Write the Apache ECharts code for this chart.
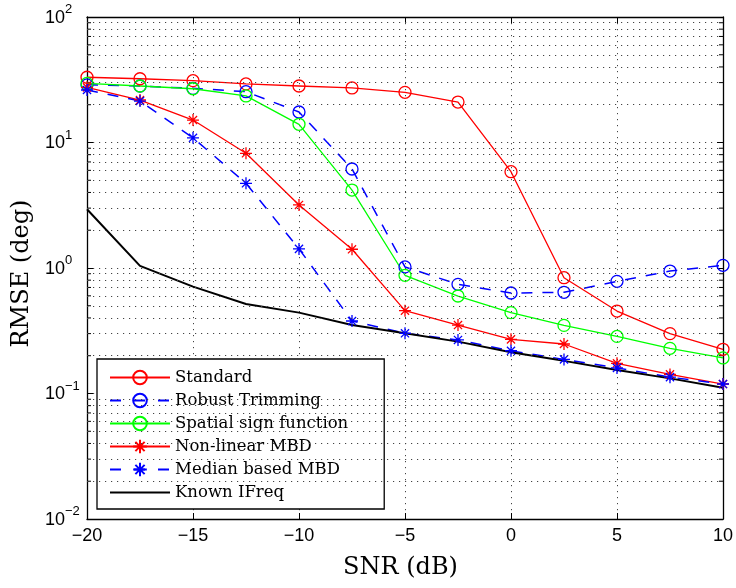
<!DOCTYPE html>
<html>
<head>
<meta charset="utf-8">
<script src="https://cdn.jsdelivr.net/npm/echarts@6/dist/echarts.min.js"></script>
<style>
  html, body { margin: 0; padding: 0; background: #fff; }
  #chart { width: 736px; height: 588px; }
</style>
</head>
<body>
<div id="chart"></div>
<script>
// SNR sweep (dB) and RMSE (deg) for each estimator
const snr = [-20, -17.5, -15, -12.5, -10, -7.5, -5, -2.5, 0, 2.5, 5, 7.5, 10];
const standard = [33.1, 32.2, 31.1, 29.3, 28.2, 27.2, 25.1, 21.0, 5.85, 0.837, 0.454, 0.300, 0.225];
const robustTrimming = [28.8, 28.2, 27.0, 25.4, 17.5, 6.15, 1.02, 0.741, 0.632, 0.640, 0.783, 0.946, 1.05];
const spatialSign = [29.6, 28.2, 26.8, 23.5, 13.96, 4.18, 0.875, 0.598, 0.441, 0.349, 0.285, 0.229, 0.192];
const nonLinearMBD = [27.5, 21.8, 15.1, 8.2, 3.18, 1.41, 0.457, 0.351, 0.270, 0.248, 0.174, 0.142, 0.119];
const medianMBD = [26.2, 21.4, 10.9, 4.73, 1.42, 0.378, 0.302, 0.267, 0.219, 0.187, 0.160, 0.135, 0.119];
const knownIFreq = [2.94, 1.04, 0.710, 0.516, 0.441, 0.351, 0.302, 0.259, 0.213, 0.182, 0.154, 0.132, 0.111];

const seriesNames = ['Standard', 'Robust Trimming', 'Spatial sign function',
                     'Non-linear MBD', 'Median based MBD', 'Known IFreq'];

// axis ranges
const X_MIN = -20, X_MAX = 10, X_STEP = 5;
const Y_MIN = 0.01, Y_MAX = 100;

// minor decade values (2..9 × each decade) for the dotted minor grid
const decades = [0.01, 0.1, 1, 10];
const minorValues = [];
decades.forEach(d => { for (let k = 2; k <= 9; k++) minorValues.push(+(k * d).toPrecision(3)); });

const SANS = '"Liberation Sans", Arial, Helvetica, sans-serif';
const SERIF = '"DejaVu Serif", serif';
const STAR = 'path://M5,0L5,10M0,5L10,5M1.6,1.6L8.4,8.4M1.6,8.4L8.4,1.6';
const DASH = [11, 10];

function pairs(ys) { return snr.map((x, i) => [x, ys[i]]); }

function lineSeries(name, ys, color, symbol, dashed, width) {
  return {
    name: name,
    type: 'line',
    data: pairs(ys),
    z: 3,
    color: color,
    lineStyle: { color: color, width: width || 1.3, type: dashed ? DASH : 'solid' },
    symbol: symbol || 'circle',
    symbolSize: 12,
    showSymbol: !!symbol,
    itemStyle: { color: 'rgba(0,0,0,0)', borderColor: color, borderWidth: 1.3 },
    emphasis: { disabled: true },
    animation: false
  };
}

const gridDots = { color: '#444', width: 1, type: [1.2, 4.8] };

const option = {
  animation: false,
  backgroundColor: '#fff',
  grid: { left: 87, right: 12, top: 17, bottom: 69 },
  xAxis: [{
    type: 'value', min: X_MIN, max: X_MAX, interval: X_STEP,
    name: 'SNR (dB)', nameLocation: 'middle', nameGap: 37,
    nameTextStyle: { fontFamily: SERIF, fontSize: 24, color: '#000', lineHeight: 24, padding: [0, 9, 0, 0] },
    axisLine: { show: true, onZero: false, lineStyle: { color: '#000', width: 1.3 } },
    axisTick: { show: true, inside: true, length: 6, lineStyle: { color: '#000' } },
    axisLabel: { fontFamily: SANS, fontSize: 18, color: '#000', margin: 8,
                 formatter: v => String(v).replace('-', '\u2212') },
    splitLine: { show: true, lineStyle: gridDots }
  }, {
    type: 'value', min: X_MIN, max: X_MAX, interval: X_STEP, position: 'top',
    axisLine: { show: true, onZero: false, lineStyle: { color: '#000', width: 1.3 } },
    axisTick: { show: true, inside: true, length: 6, lineStyle: { color: '#000' } },
    axisLabel: { show: false }, splitLine: { show: false }
  }],
  yAxis: [{
    type: 'log', logBase: 10, min: Y_MIN, max: Y_MAX,
    name: 'RMSE (deg)', nameLocation: 'middle', nameGap: 47,
    nameTextStyle: { fontFamily: SERIF, fontSize: 24, color: '#000', lineHeight: 24, padding: [0, 11, 0, 0] },
    axisLine: { show: true, onZero: false, lineStyle: { color: '#000', width: 1.3 } },
    axisTick: { show: true, inside: true, length: 6, lineStyle: { color: '#000' } },
    axisLabel: {
      align: 'left', margin: 42, padding: [8, 0, 0, 0],
      formatter: v => {
        const e = Math.round(Math.log10(v));
        return '{b|10}{e|' + String(e).replace('-', '\u2212') + '}';
      },
      rich: {
        b: { fontFamily: SANS, fontSize: 18, color: '#000', lineHeight: 18, verticalAlign: 'bottom', padding: [0, 0, 3, 0] },
        e: { fontFamily: SANS, fontSize: 13, color: '#000', lineHeight: 13, verticalAlign: 'bottom', padding: [0, 0, 14, 0] }
      }
    },
    splitLine: { show: true, lineStyle: gridDots }
  }, {
    type: 'log', logBase: 10, min: Y_MIN, max: Y_MAX, position: 'right',
    axisLine: { show: true, onZero: false, lineStyle: { color: '#000', width: 1.3 } },
    axisTick: { show: true, inside: true, length: 6, lineStyle: { color: '#000' } },
    axisLabel: { show: false }, splitLine: { show: false }
  }],
  legend: {
    data: [
      'Standard',
      { name: 'Robust Trimming', lineStyle: { type: [11, 13] } },
      'Spatial sign function',
      'Non-linear MBD',
      { name: 'Median based MBD', lineStyle: { type: [11, 13] } },
      { name: 'Known IFreq', itemStyle: { color: 'rgba(0,0,0,0)', borderColor: 'rgba(0,0,0,0)', borderWidth: 0 } }
    ],
    orient: 'vertical',
    left: 97, top: 359,
    padding: [10, 36, 8, 12],
    itemWidth: 60, itemHeight: 17, itemGap: 6,
    backgroundColor: '#fff',
    borderColor: '#000', borderWidth: 1.3, borderRadius: 0,
    textStyle: { fontFamily: SERIF, fontSize: 16.5, color: '#000', lineHeight: 17 },
    selectedMode: false
  },
  series: [
    {
      // minor decade ticks on both vertical edges + dotted minor grid
      name: 'minor',
      type: 'custom',
      z: 1,
      silent: true,
      data: minorValues.map(v => [X_MIN, v]),
      renderItem: (params, api) => {
        const v = api.value(1);
        const a = api.coord([X_MIN, v]);
        const b = api.coord([X_MAX, v]);
        const st = { stroke: '#000', lineWidth: 1 };
        return {
          type: 'group',
          children: [
            { type: 'line', shape: { x1: a[0], y1: a[1], x2: a[0] + 4, y2: a[1] }, style: st },
            { type: 'line', shape: { x1: b[0] - 4, y1: b[1], x2: b[0], y2: b[1] }, style: st }
          ]
        };
      },
      markLine: {
        silent: true, symbol: 'none', label: { show: false },
        lineStyle: gridDots,
        emphasis: { disabled: true },
        data: minorValues.map(v => ({ yAxis: v }))
      }
    },
    lineSeries('Standard', standard, '#ff0000', 'circle', false),
    lineSeries('Robust Trimming', robustTrimming, '#0000ff', 'circle', true, 1.5),
    lineSeries('Spatial sign function', spatialSign, '#00ff00', 'circle', false),
    lineSeries('Non-linear MBD', nonLinearMBD, '#ff0000', STAR, false),
    lineSeries('Median based MBD', medianMBD, '#0000ff', STAR, true, 1.5),
    lineSeries('Known IFreq', knownIFreq, '#000000', null, false, 2)
  ]
};

const chart = echarts.init(document.getElementById('chart'), null, { renderer: 'canvas' });
chart.setOption(option);
</script>
</body>
</html>
